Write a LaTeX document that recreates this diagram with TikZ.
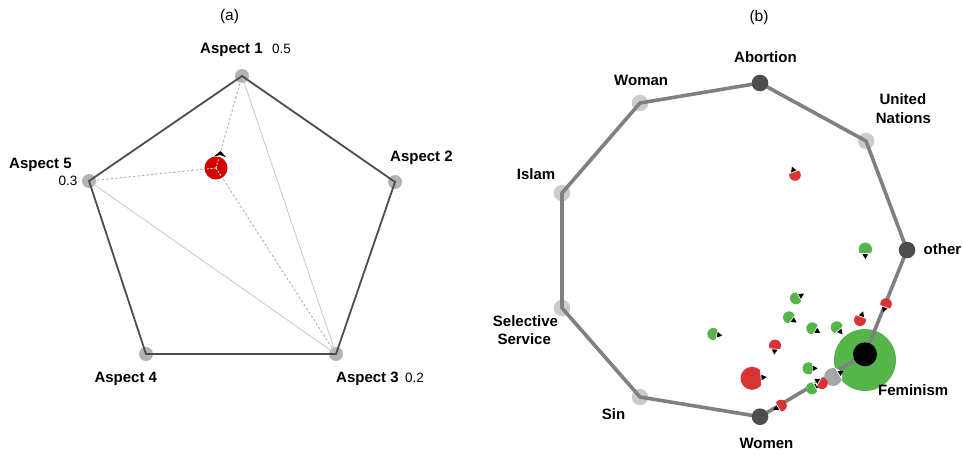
\documentclass[tikz,border=0pt]{standalone}
\usepackage{fontspec}
\setmainfont{Liberation Sans}
\usetikzlibrary{calc}
\definecolor{vtxlight}{HTML}{B3B3B3}
\definecolor{vtxpale}{HTML}{CCCCCC}
\definecolor{vtxdark}{HTML}{4D4D4D}
\definecolor{edgedark}{HTML}{4D4D4D}
\definecolor{edgemid}{HTML}{808080}
\definecolor{thin}{HTML}{C8C8C8}
\definecolor{dotred}{HTML}{D40000}
\definecolor{pred}{HTML}{D93434}
\definecolor{pgreen}{HTML}{55B54A}
\definecolor{pgray}{HTML}{A6A6A6}

% a small pie marker: name, x, y, radius, colour, direction of the cut and tip
\newcommand\pieglyph[6]{%
  \node[circle, inner sep=0pt, minimum size={2*#4pt}, fill=#5] (#1) at (#2,-#3) {};
  \begin{scope}[shift={(#1.center)}, rotate=#6]
    \clip (0,0) circle ({#4+0.3});
    \fill[white] ({#4-2.8},{-#4-1}) rectangle ({#4+1},{#4+1});
  \end{scope}
  \fill[black, shift={(#1.center)}, rotate=#6] ({#4-2},2.8) -- ({#4-2},-2.8) -- ({#4+3.2},0) -- cycle;
}

\begin{document}
\begin{tikzpicture}[x=1pt,y=1pt,
  lbl/.style={font=\fontsize{15}{18}\selectfont\bfseries, inner sep=0pt, anchor=base west},
  val/.style={font=\fontsize{13.5}{16}\selectfont, inner sep=0pt, anchor=base west},
  ttl/.style={font=\fontsize{15.5}{18}\selectfont, inner sep=0pt, anchor=base},
  vtxa/.style={circle, inner sep=0pt, minimum size=14pt, fill=vtxlight},
  vtxb/.style={circle, inner sep=0pt, minimum size=16.5pt},
  edgea/.style={draw=edgedark, line width=1.8pt, line join=miter},
  edgeb/.style={draw=edgemid, line width=3.6pt, line join=round},
  thinline/.style={draw=thin, line width=0.8pt},
  dashline/.style={draw=vtxlight, line width=0.9pt, dash pattern=on 2.5pt off 2pt},
]
\useasboundingbox (0,0) rectangle (963,-455);
\fill[white] (0,0) rectangle (963,-455);

% ---------------- panel (a) ----------------
\node[ttl] (ta) at (229.5,-20.5) {(a)};

\node[vtxa] (a1) at (242,-76) {};
\node[vtxa] (a2) at (395,-182) {};
\node[vtxa] (a3) at (336,-354) {};
\node[vtxa] (a4) at (146,-354) {};
\node[vtxa] (a5) at (89,-181) {};

\draw[thinline] (a1.center) -- (a3.center);
\draw[thinline] (a5.center) -- (a3.center);

\coordinate (dc) at (216,-168);
\draw[dashline] (dc) -- (a1.center);
\draw[dashline] (dc) -- (a5.center);
\draw[dashline] (dc) -- (a3.center);

\draw[edgea] (a1.center) -- (a2.center) -- (a3.center) -- (a4.center) -- (a5.center) -- cycle;

\node[circle, inner sep=0pt, minimum size=23pt, fill=dotred] (dot) at (dc) {};
\draw[white, line width=0.8pt, dash pattern=on 2pt off 1.5pt] (dot.center) -- ($(dot.center)!9pt!(a1.center)$);
\draw[white, line width=0.8pt, dash pattern=on 2pt off 1.5pt] (dot.center) -- ($(dot.center)!9pt!(a5.center)$);
\draw[white, line width=0.8pt, dash pattern=on 2pt off 1.5pt] (dot.center) -- ($(dot.center)!9pt!(a3.center)$);
\fill[black] (214,-156.5) -- (220.5,-151) -- (226,-157) -- (220,-155) -- cycle;

\node[lbl] (la1) at (200,-53.5) {Aspect 1};
\node[val] (va1) at (272,-53.5) {0.5};
\node[lbl] (la2) at (390,-161.5) {Aspect 2};
\node[lbl] (la5) at (9,-168.5) {Aspect 5};
\node[val] (va5) at (58.3,-185.7) {0.3};
\node[lbl] (la4) at (94.3,-382.7) {Aspect 4};
\node[lbl] (la3) at (336,-382.7) {Aspect 3};
\node[val] (va3) at (405,-382.7) {0.2};

% ---------------- panel (b) ----------------
\node[ttl] (tb) at (759,-21) {(b)};

\node[vtxb, fill=vtxpale] (woman) at (640,-103) {};
\node[vtxb, fill=vtxpale] (islam) at (562,-193) {};
\node[vtxb, fill=vtxpale] (selserv) at (562,-308) {};
\node[vtxb, fill=vtxpale] (sin) at (640,-397) {};
\node[vtxb, fill=vtxpale] (un) at (866,-141) {};
\node[circle, inner sep=0pt, minimum size=62pt, fill=pgreen] (femhalo) at (865,-360) {};
\coordinate (fem) at (865,-354.3);
\node[vtxb] (abortion) at (760,-83) {};
\node[vtxb] (women) at (760,-416.7) {};
\node[vtxb] (other) at (907,-250) {};

\draw[edgeb] (abortion.center) -- (woman.center) -- (islam.center) -- (selserv.center)
  -- (sin.center) -- (women.center) -- (fem) -- (other.center) -- (un.center) -- cycle;

\fill[vtxdark] (abortion) circle (8.3);
\fill[vtxdark] (women) circle (8.3);
\fill[vtxdark] (other) circle (8.3);
\node[circle, inner sep=0pt, minimum size=24pt, fill=black] (femcore) at (fem) {};

% pie markers
\pieglyph{g1}{795}{175}{5.8}{pred}{110}
\pieglyph{g2}{865.3}{249.3}{6.7}{pgreen}{-90}
\pieglyph{g3}{796}{298.3}{6}{pgreen}{30}
\pieglyph{g4}{789}{317.3}{6}{pgreen}{-35}
\pieglyph{g5}{812.3}{328.3}{6}{pgreen}{-30}
\pieglyph{g6}{836.7}{327.3}{6}{pgreen}{-50}
\pieglyph{g7}{860}{320}{6}{pred}{70}
\pieglyph{g8}{886}{304}{5.8}{pred}{-110}
\pieglyph{g9}{713.3}{334}{6}{pgreen}{-10}
\pieglyph{g10}{775}{345.5}{6}{pred}{-95}
\pieglyph{g11}{752}{378.3}{11.5}{pred}{5}
\pieglyph{g12}{808.5}{368.3}{6}{pgreen}{0}
\pieglyph{g13}{833}{377}{9}{pgray}{30}
\pieglyph{g15}{812}{388.3}{6}{pgreen}{30}
\pieglyph{g14}{822}{383.3}{5.8}{pred}{150}
\pieglyph{g16}{781}{405.5}{5.8}{pred}{-150}

\node[lbl] (lab) at (734,-62.7) {Abortion};
\node[lbl] (lwoman) at (614,-85) {Woman};
\node[lbl] (lun1) at (879.3,-104.3) {United};
\node[lbl] (lun2) at (875.7,-123.3) {Nations};
\node[lbl] (lislam) at (516.7,-179) {Islam};
\node[lbl] (lss1) at (492.7,-326) {Selective};
\node[lbl] (lss2) at (497.3,-344.3) {Service};
\node[lbl] (lsin) at (601.7,-419.3) {Sin};
\node[lbl] (lwomen) at (739.3,-448.3) {Women};
\node[lbl] (lother) at (923.5,-254) {other};
\node[lbl] (lfem) at (878,-395) {Feminism};
\end{tikzpicture}
\end{document}
